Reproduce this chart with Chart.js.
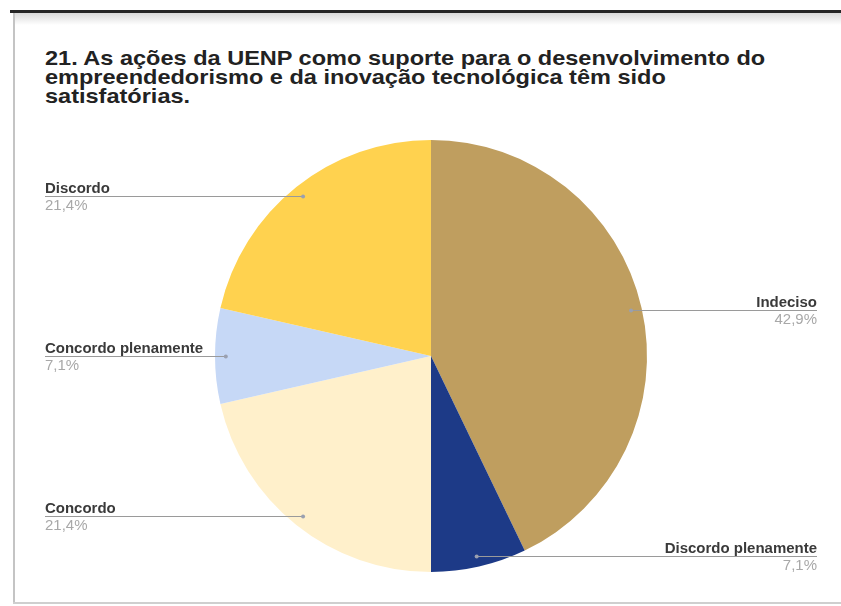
<!DOCTYPE html>
<html>
<head>
<meta charset="utf-8">
<script src="https://cdn.jsdelivr.net/npm/chart.js@4"></script>
<style>
  html, body { margin: 0; padding: 0; background: #fff; }
  #wrap { position: relative; width: 841px; height: 606px; overflow: hidden; }
  #topBar { position: absolute; left: 10px; right: 0; top: 10px; height: 3px; background: #252525; }
  #topShade { position: absolute; left: 14px; right: 0; top: 13px; height: 12px;
              background: linear-gradient(#d9d9d9, #ffffff); }
  #leftLine { position: absolute; left: 13px; top: 13px; width: 2px; height: 591px; background: #c4c4c4; }
  #bottomLine { position: absolute; left: 13px; right: 0; top: 602px; height: 2px; background: #cfcfcf; }
  #title { position: absolute; left: 45px; top: 48px; font-family: "Liberation Sans", Arial, sans-serif;
           font-weight: bold; font-size: 21px; line-height: 19px; color: #222; white-space: nowrap;
           transform: scaleX(1.12); transform-origin: left top; }
  canvas { position: absolute; left: 0; top: 0; }
</style>
</head>
<body>
<div id="wrap">
  <div id="topBar"></div>
  <div id="topShade"></div>
  <div id="leftLine"></div>
  <div id="bottomLine"></div>
  <div id="title">21. As ações da UENP como suporte para o desenvolvimento do<br>empreendedorismo e da inovação tecnológica têm sido<br>satisfatórias.</div>
  <canvas id="pieChart" width="841" height="606"></canvas>
</div>
<script>
  // respostas (14 no total)
  const categorias = ['Indeciso', 'Discordo plenamente', 'Concordo', 'Concordo plenamente', 'Discordo'];
  const respostas  = [6, 1, 3, 1, 3];
  const cores      = ['#bf9e5f', '#1d3a87', '#fff0cb', '#c6d8f6', '#ffd24f'];

  const total = respostas.reduce((a, b) => a + b, 0);

  /**======================================================================================
   *                        plugin: rótulos com linha de chamada
   ======================================================================================*/
  const leaderLabels = {
    id: 'leaderLabels',
    afterDatasetsDraw(chart) {
      const ctx = chart.ctx;
      const meta = chart.getDatasetMeta(0);
      const leftX = 45, rightX = 817, stretch = 1.07;

      meta.data.forEach((arc, i) => {
        const mid = (arc.startAngle + arc.endAngle) / 2;
        const r = arc.outerRadius * 0.95;
        const ax = arc.x + Math.cos(mid) * r;
        const ay = arc.y + Math.sin(mid) * r;
        const isLeft = ax < arc.x;
        const tx = isLeft ? leftX : rightX;
        const pct = (respostas[i] / total * 100).toFixed(1).replace('.', ',') + '%';

        ctx.save();
        ctx.strokeStyle = '#9a9a9a';
        ctx.lineWidth = 1;
        ctx.beginPath();
        ctx.moveTo(ax, Math.round(ay) + 0.5);
        ctx.lineTo(tx, Math.round(ay) + 0.5);
        ctx.stroke();
        ctx.fillStyle = '#9aa0b0';
        ctx.beginPath();
        ctx.arc(ax, Math.round(ay) + 0.5, 2, 0, Math.PI * 2);
        ctx.fill();

        ctx.textAlign = isLeft ? 'left' : 'right';
        ctx.textBaseline = 'alphabetic';

        ctx.save();
        ctx.translate(tx, Math.round(ay) - 3);
        ctx.scale(stretch, 1);
        ctx.font = 'bold 14px "Liberation Sans", Arial, sans-serif';
        ctx.fillStyle = '#3a3a3a';
        ctx.fillText(categorias[i], 0, 0);
        ctx.restore();

        ctx.save();
        ctx.translate(tx, Math.round(ay) + 14);
        ctx.scale(stretch, 1);
        ctx.font = '14px "Liberation Sans", Arial, sans-serif';
        ctx.fillStyle = '#a8a8a8';
        ctx.fillText(pct, 0, 0);
        ctx.restore();

        ctx.restore();
      });
    }
  };

  const pieChart = new Chart(document.getElementById('pieChart'), {
    type: 'pie',
    data: {
      labels: categorias,
      datasets: [{
        data: respostas,
        backgroundColor: cores,
        borderWidth: 0
      }]
    },
    options: {
      responsive: false,
      animation: false,
      layout: { padding: { top: 140, bottom: 34, left: 21, right: 0 } },
      plugins: {
        legend: { display: false },
        tooltip: { enabled: false },
        title: { display: false }
      }
    },
    plugins: [leaderLabels]
  });
</script>
</body>
</html>
